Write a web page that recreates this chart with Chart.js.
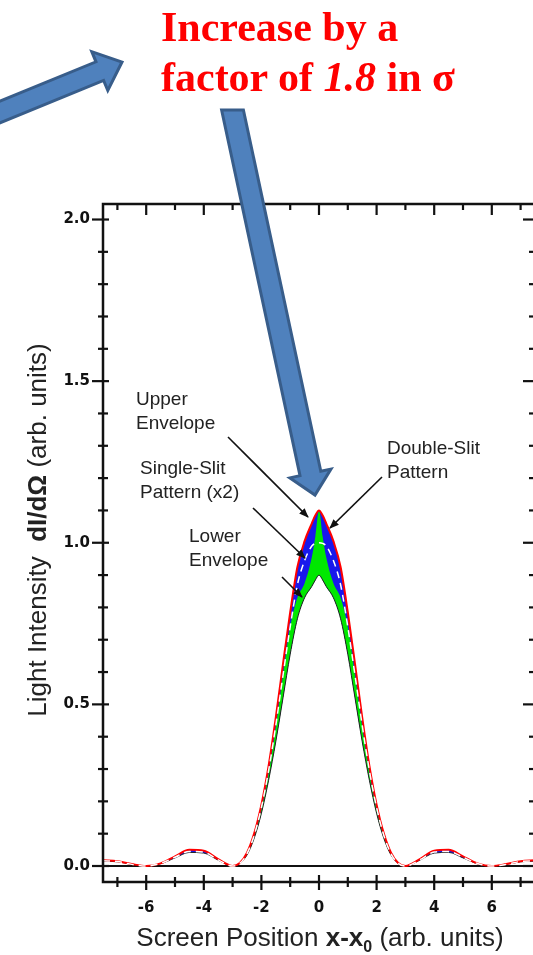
<!DOCTYPE html>
<html>
<head>
<meta charset="utf-8">
<script src="https://cdn.jsdelivr.net/npm/chart.js@4.4.1/dist/chart.umd.min.js"></script>
<style>
  html, body { margin: 0; padding: 0; background: #fff; }
  body { width: 533px; height: 955px; overflow: hidden; position: relative; font-family: "Liberation Sans", Arial, sans-serif; }
  #chart { position: absolute; left: 0; top: 0; }
  #overlay { position: absolute; left: 0; top: 0; }
  .headline { position: absolute; left: 161px; top: 2px; font-family: "Liberation Serif", "Times New Roman", serif; font-weight: bold; font-size: 42px; line-height: 50px; color: #ff0000; white-space: nowrap; }
  .note { position: absolute; font-size: 19px; line-height: 24px; color: #222; white-space: nowrap; }
  .y-title { position: absolute; left: 37px; top: 530px; transform: translate(-50%, -50%) rotate(-90deg); font-size: 26px; line-height: 30px; color: #222; white-space: nowrap; }
  .x-title { position: absolute; left: 320px; top: 922px; transform: translateX(-50%); font-size: 26px; line-height: 30px; color: #222; white-space: nowrap; }
  .x-title sub { font-size: 16px; line-height: 0; vertical-align: -6px; }
</style>
</head>
<body>
<canvas id="chart" width="545" height="955"></canvas>

<svg id="overlay" width="533" height="955">
  <defs>
    <marker id="tip" viewBox="0 0 10 10" refX="9" refY="5" markerWidth="6" markerHeight="6" orient="auto">
      <path d="M0,1 L10,5 L0,9 z" fill="#111"></path>
    </marker>
  </defs>
  <g fill="#4f81bd" stroke="#385d8a" stroke-width="3" stroke-linejoin="miter">
    <polygon points="-6.2,125.3 -13.8,106.7 96,61.8 91.8,51.7 122,62 107.8,90.5 103.6,80.4"></polygon>
    <polygon points="221.6,110 300,475.7 289.9,477.9 315,495 330.9,469.1 320.8,471.3 243.4,110"></polygon>
  </g>
  <g stroke="#111" stroke-width="1.6" marker-end="url(#tip)">
    <line x1="228" y1="437" x2="308" y2="517"></line>
    <line x1="253" y1="508" x2="305" y2="558"></line>
    <line x1="282" y1="577" x2="302" y2="597"></line>
    <line x1="382" y1="477" x2="330" y2="528"></line>
  </g>
</svg>

<div class="headline">Increase by a<br>factor of <i>1.8</i> in σ</div>
<div class="note" style="left:136px; top:387px;">Upper<br>Envelope</div>
<div class="note" style="left:140px; top:456px;">Single-Slit<br>Pattern (x2)</div>
<div class="note" style="left:189px; top:524px;">Lower<br>Envelope</div>
<div class="note" style="left:387px; top:436px;">Double-Slit<br>Pattern</div>
<div class="y-title">Light Intensity&nbsp; <b>dI/dΩ</b> (arb. units)</div>
<div class="x-title">Screen Position <b>x-x<sub>0</sub></b> (arb. units)</div>

<script>
const xPos = [-7.5, -7, -6.5, -6, -5.5, -5, -4.5, -4, -3.5, -3, -2.75, -2.5, -2.25, -2, -1.75, -1.5, -1.25, -1, -0.75, -0.5, -0.25, -0.125,
    0, 0.125, 0.25, 0.5, 0.75, 1, 1.25, 1.5, 1.75, 2, 2.25, 2.5, 2.75, 3, 3.5, 4, 4.5, 5, 5.5, 6, 6.5, 7, 7.5];

const upperEnvelope = [0.018, 0.015, 0.006, 0, 0.008, 0.030, 0.050, 0.047, 0.021, 0, 0.009, 0.041, 0.101, 0.190, 0.310, 0.460, 0.625, 0.785, 0.925, 1.005, 1.060, 1.085,
    1.100, 1.085, 1.060, 1.005, 0.925, 0.785, 0.625, 0.460, 0.310, 0.190, 0.101, 0.041, 0.009, 0, 0.021, 0.047, 0.050, 0.030, 0.008, 0, 0.006, 0.015, 0.018];

const lowerEnvelope = [0.015, 0.013, 0.005, 0, 0.007, 0.025, 0.042, 0.040, 0.018, 0, 0.008, 0.034, 0.086, 0.163, 0.265, 0.385, 0.520, 0.655, 0.765, 0.830, 0.865, 0.885,
    0.900, 0.885, 0.865, 0.830, 0.765, 0.655, 0.520, 0.385, 0.265, 0.163, 0.086, 0.034, 0.008, 0, 0.018, 0.040, 0.042, 0.025, 0.007, 0, 0.005, 0.013, 0.015];

const singleSlitX2 = [0.016, 0.014, 0.005, 0, 0.008, 0.027, 0.045, 0.043, 0.019, 0, 0.008, 0.038, 0.095, 0.181, 0.295, 0.435, 0.590, 0.740, 0.870, 0.945, 0.990, 0.998,
    1.000, 0.998, 0.990, 0.945, 0.870, 0.740, 0.590, 0.435, 0.295, 0.181, 0.095, 0.038, 0.008, 0, 0.019, 0.043, 0.045, 0.027, 0.008, 0, 0.005, 0.014, 0.016];

// green part of the double-slit band (upper edge, lower edge is the lower envelope)
const greenCore = [0.015, 0.013, 0.005, 0, 0.007, 0.025, 0.042, 0.040, 0.018, 0, 0.008, 0.036, 0.092, 0.176, 0.288, 0.430, 0.590, 0.740, 0.830, 0.875, 0.955, 1.020,
    1.100, 1.020, 0.955, 0.875, 0.830, 0.740, 0.590, 0.430, 0.288, 0.176, 0.092, 0.036, 0.008, 0, 0.018, 0.040, 0.042, 0.025, 0.007, 0, 0.005, 0.013, 0.015];

const xMajorTicks = [-6, -4, -2, 0, 2, 4, 6];
const xMinorTicks = [-7, -5, -3, -1, 1, 3, 5, 7];
const yMajorTicks = [0, 0.5, 1.0, 1.5, 2.0];
const yMinorTicks = [0.1, 0.2, 0.3, 0.4, 0.6, 0.7, 0.8, 0.9, 1.1, 1.2, 1.3, 1.4, 1.6, 1.7, 1.8, 1.9];

function toPoints(values) {
    return xPos.map((x, i) => ({ x: x, y: values[i] }));
}

const framePlugin = {
    id: "frame",
    beforeDatasetsDraw(chart) {
        const { ctx, chartArea, scales } = chart;
        const y0 = scales.y.getPixelForValue(0);
        ctx.save();
        ctx.strokeStyle = "#111";
        ctx.lineWidth = 2;
        ctx.beginPath();
        ctx.moveTo(chartArea.left, y0);
        ctx.lineTo(chartArea.right, y0);
        ctx.stroke();
        ctx.restore();
    },
    afterDatasetsDraw(chart) {
        const { ctx, chartArea, scales } = chart;
        const { left, right, top, bottom } = chartArea;
        ctx.save();
        ctx.strokeStyle = "#111";
        ctx.lineWidth = 2.5;
        ctx.strokeRect(left, top, right - left, bottom - top);

        const seg = (x1, y1, x2, y2) => {
            ctx.beginPath();
            ctx.moveTo(x1, y1);
            ctx.lineTo(x2, y2);
            ctx.stroke();
        };
        ctx.lineWidth = 2.2;
        yMajorTicks.forEach(v => {
            const p = scales.y.getPixelForValue(v);
            seg(left - 11, p, left + 6, p);
            seg(right - 12, p, right, p);
        });
        yMinorTicks.forEach(v => {
            const p = scales.y.getPixelForValue(v);
            seg(left - 5, p, left + 5, p);
            seg(right - 6, p, right, p);
        });
        xMajorTicks.forEach(v => {
            const p = scales.x.getPixelForValue(v);
            seg(p, bottom - 7, p, bottom + 8);
            seg(p, top, p, top + 11);
        });
        xMinorTicks.forEach(v => {
            const p = scales.x.getPixelForValue(v);
            seg(p, bottom - 5, p, bottom + 5);
            seg(p, top, p, top + 6);
        });
        ctx.restore();
    }
};

const tickFont = { family: "DejaVu Sans", weight: "bold", size: 15 };
const clear = "rgba(0,0,0,0)";

new Chart(document.getElementById("chart"), {
    type: "line",
    data: {
        datasets: [
            {
                label: "Double-Slit Pattern",
                data: toPoints(upperEnvelope),
                borderColor: clear,
                borderWidth: 0,
                backgroundColor: "rgb(24,24,236)",
                fill: 1,
                order: 20,
            },
            {
                label: "Lower Envelope",
                data: toPoints(lowerEnvelope),
                borderColor: "#222",
                borderWidth: 1,
                fill: false,
                order: 5,
            },
            {
                label: "Double-Slit core",
                data: toPoints(greenCore),
                borderColor: clear,
                borderWidth: 0,
                backgroundColor: "rgb(0,232,0)",
                fill: 1,
                order: 15,
            },
            {
                label: "Upper Envelope",
                data: toPoints(upperEnvelope),
                borderColor: "#ff0000",
                borderWidth: 2,
                fill: false,
                order: 4,
            },
            {
                label: "Single-Slit Pattern (x2)",
                data: toPoints(singleSlitX2),
                borderColor: "#ffffff",
                borderWidth: 1.5,
                borderDash: [7, 5],
                fill: false,
                order: 3,
            },
        ],
    },
    options: {
        responsive: false,
        animation: false,
        devicePixelRatio: 1,
        layout: { padding: { top: 204, right: 10, left: 0, bottom: 0 } },
        elements: {
            point: { radius: 0 },
            line: { cubicInterpolationMode: "monotone" },
        },
        plugins: {
            legend: { display: false },
            tooltip: { enabled: false },
        },
        scales: {
            x: {
                type: "linear",
                min: -7.5,
                max: 7.5,
                grid: { display: false, drawTicks: false },
                border: { display: false },
                ticks: { padding: 17, font: tickFont, color: "#111", callback: v => String(v) },
                afterBuildTicks: s => { s.ticks = xMajorTicks.map(v => ({ value: v })); },
                afterFit: s => { s.height = 73; },
            },
            y: {
                type: "linear",
                min: -0.0495,
                max: 2.048,
                grid: { display: false, drawTicks: false },
                border: { display: false },
                ticks: { padding: 13, font: tickFont, color: "#111", callback: v => v.toFixed(1) },
                afterBuildTicks: s => { s.ticks = yMajorTicks.map(v => ({ value: v })); },
                afterFit: s => { s.width = 103; },
            },
        },
    },
    plugins: [framePlugin],
});
</script>
</body>
</html>
